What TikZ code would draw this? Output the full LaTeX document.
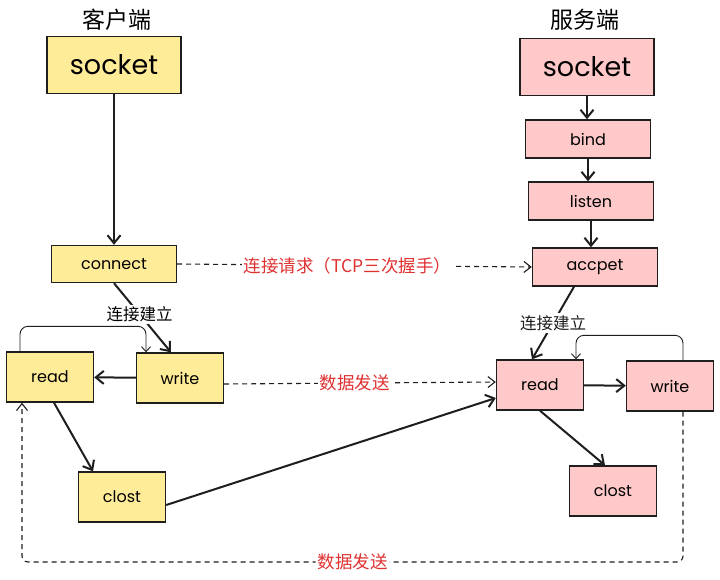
\documentclass[tikz,border=0pt]{standalone}
\usepackage{fontspec}
\setmainfont{Poppins}
\newfontfamily\cjk{Noto Sans CJK SC}
\usetikzlibrary{calc, positioning, arrows.meta}
\definecolor{cyellow}{HTML}{FFEC99}
\definecolor{spink}{HTML}{FFC9C9}
\definecolor{ink}{HTML}{1E1E1E}
\definecolor{note}{HTML}{E03131}

\begin{document}
\begin{tikzpicture}
  [x=1pt, y=-1pt, text centered,
   box/.style={draw=ink, line width=1.4pt, inner sep=0pt, font=\fontsize{16}{16}\selectfont},
   cbox/.style={box, fill=cyellow},
   sbox/.style={box, fill=spink},
   big/.style={minimum width=134pt, minimum height=57pt, font=\fontsize{27}{27}\selectfont},
   wide/.style={minimum width=125pt, minimum height=38pt},
   small/.style={minimum width=87pt, minimum height=50pt},
   flow/.style={-{Straight Barb[length=8pt,width=13pt]}, line width=2pt, draw=ink},
   turn/.style={-{Straight Barb[length=5pt,width=9pt]}, line width=0.9pt, draw=ink, rounded corners=8pt},
   msg/.style={-{Straight Barb[length=7pt,width=11pt]}, line width=1.1pt, dash pattern=on 5pt off 4pt, draw=ink},
   say/.style={font=\cjk\fontsize{16.5}{16.5}\selectfont, fill=white, inner sep=2pt},
   note/.style={say, text=note, font=\cjk\fontsize{17.5}{17.5}\selectfont},
   title/.style={font=\cjk\fontsize{23}{23}\selectfont}]
  \useasboundingbox[fill=white] (0,0) rectangle (720,579);

  % nodes %
  \node[title] (ctitle) at (117,20) {客户端};
  \node[title] (stitle) at (585,20) {服务端};

  \node[cbox, big] (csocket) at (114,65) {socket};
  \node[cbox, wide, minimum height=37pt] (cconnect) at (114,264) {connect};
  \node[cbox, small] (cread) at (50,377) {read};
  \node[cbox, small] (cwrite) at (180,378) {write};
  \node[cbox, small] (cclost) at (122,497) {clost};

  \node[sbox, big] (ssocket) at (587,67) {socket};
  \node[sbox, wide] (sbind) at (588,139) {bind};
  \node[sbox, wide] (slisten) at (591,201) {listen};
  \node[sbox, wide] (saccpet) at (595,267) {accpet};
  \node[sbox, small] (sread) at (540,385) {read};
  \node[sbox, small] (swrite) at (670,386) {write};
  \node[sbox, small] (sclost) at (613,491) {clost};

  \coordinate (corner) at (22,562);

  % edges %
  \draw[flow] (csocket) -- (cconnect);
  \draw[flow] (cconnect.south) -- ([xshift=-9pt]cwrite.north)
    node[say, pos=0.45] {连接建立};
  \draw[turn] ([xshift=-30pt]cread.north) -- ++(0,-25) -| ([xshift=-34pt]cwrite.north);
  \draw[flow] (cwrite) -- (cread);
  \draw[flow] ([xshift=4pt]cread.south) -- ([xshift=-29pt]cclost.north);
  \draw[flow] ([yshift=-8pt]cclost.east) -- ([yshift=-13pt]sread.west);

  \draw[flow] (ssocket) -- (ssocket |- sbind.north);
  \draw[flow] (sbind) -- (sbind |- slisten.north);
  \draw[flow] (slisten) -- (slisten |- saccpet.north);
  \draw[flow] ([xshift=-21pt]saccpet.south) -- ([xshift=-8pt]sread.north)
    node[say, pos=0.5, text=ink] {连接建立};
  \draw[flow] (sread) -- (swrite);
  \draw[flow] (sread.south) -- ([xshift=-8pt]sclost.north);
  \draw[turn] ([xshift=13pt]swrite.north) -- ++(0,-25) -| ([xshift=36pt]sread.north);

  \draw[msg] (cconnect.east) -- (saccpet.west)
    node[note, pos=0.48] {连接请求（TCP三次握手）};
  \draw[msg] ([yshift=-6pt]cwrite.east) -- ([yshift=3pt]sread.west)
    node[note, pos=0.48] {数据发送};
  \draw[msg, rounded corners=6pt] ([xshift=13pt]swrite.south) |- (corner)
    node[note, pos=0.75] {数据发送} -- ([xshift=-28pt]cread.south);
\end{tikzpicture}
\end{document}
